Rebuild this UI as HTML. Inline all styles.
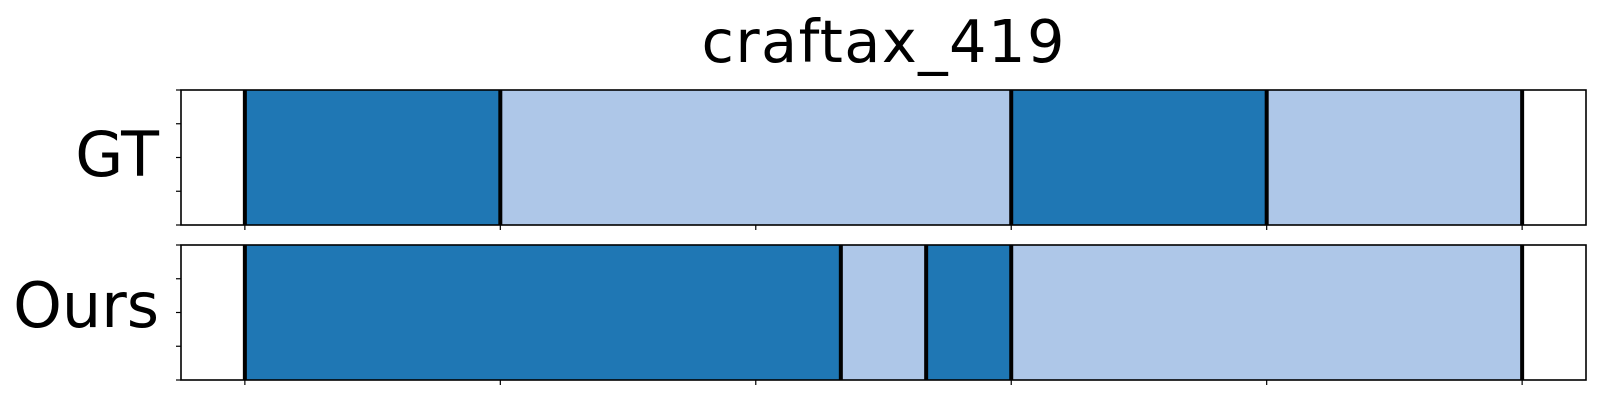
<!DOCTYPE html>
<html><head><meta charset="utf-8"><style>
html,body{margin:0;padding:0;background:#fff;}
svg{display:block;font-family:"DejaVu Sans","Liberation Sans",sans-serif;}
</style></head><body>
<svg id="chart" width="1600" height="400" viewBox="0 0 1600 400" xmlns="http://www.w3.org/2000/svg">
<text x="883" y="62" font-size="59" text-anchor="middle" textLength="363">craftax_419</text>
<g id="plots"></g>
</svg>
<script>
const rowLabels = ["GT", "Ours"];
const gtBounds = [0, 1, 3, 4, 5];
const gtClasses = [0, 1, 0, 1];
const oursBounds = [0, 2.333, 2.667, 3, 5];
const oursClasses = [0, 1, 0, 1];
const xTicks = [0, 1, 2, 3, 4, 5];
const yTicks = [0, 0.25, 0.5, 0.75, 1];

const colors = ["#1f77b4", "#aec7e8"];
const ns = "http://www.w3.org/2000/svg";
const L = 181, R = 1586, xMin = -0.25, xMax = 5.25;
const xs = v => L + (v - xMin) / (xMax - xMin) * (R - L);
const panels = [{top: 90, bottom: 225, bounds: gtBounds, cls: gtClasses}, {top: 245, bottom: 380, bounds: oursBounds, cls: oursClasses}];
const g = document.getElementById('plots');
function mk(tag, attrs) { const e = document.createElementNS(ns, tag); for (const k in attrs) e.setAttribute(k, attrs[k]); g.appendChild(e); return e; }
panels.forEach((p, pi) => {
  const ys = v => p.bottom - v * (p.bottom - p.top);
  for (let i = 0; i < p.cls.length; i++) {
    const r = mk('rect', {x: xs(p.bounds[i]), y: p.top, width: xs(p.bounds[i + 1]) - xs(p.bounds[i]), height: p.bottom - p.top, fill: colors[p.cls[i]]});
    
    
  }
  p.bounds.forEach((b, i) => {
    const l = mk('line', {x1: xs(b), x2: xs(b), y1: p.top, y2: p.bottom, stroke: '#000', 'stroke-width': 4});
    
    
  });
  const f = mk('rect', {x: L, y: p.top, width: R - L, height: p.bottom - p.top, fill: 'none', stroke: '#000', 'stroke-width': 1.6});
  
  
  yTicks.forEach(t => {
    const tk = mk('line', {x1: L - 5, x2: L, y1: ys(t), y2: ys(t), stroke: '#000', 'stroke-width': 1.2});
    
    
  });
  xTicks.forEach(t => {
    const tk = mk('line', {x1: xs(t), x2: xs(t), y1: p.bottom, y2: p.bottom + 5, stroke: '#000', 'stroke-width': 1.2});
    
    
  });
  const lab = mk('text', {x: 159, y: pi === 0 ? 176 : 327, 'font-size': 62, 'text-anchor': 'end'});
  lab.textContent = rowLabels[pi];
  
  
});
</script>
</body></html>
